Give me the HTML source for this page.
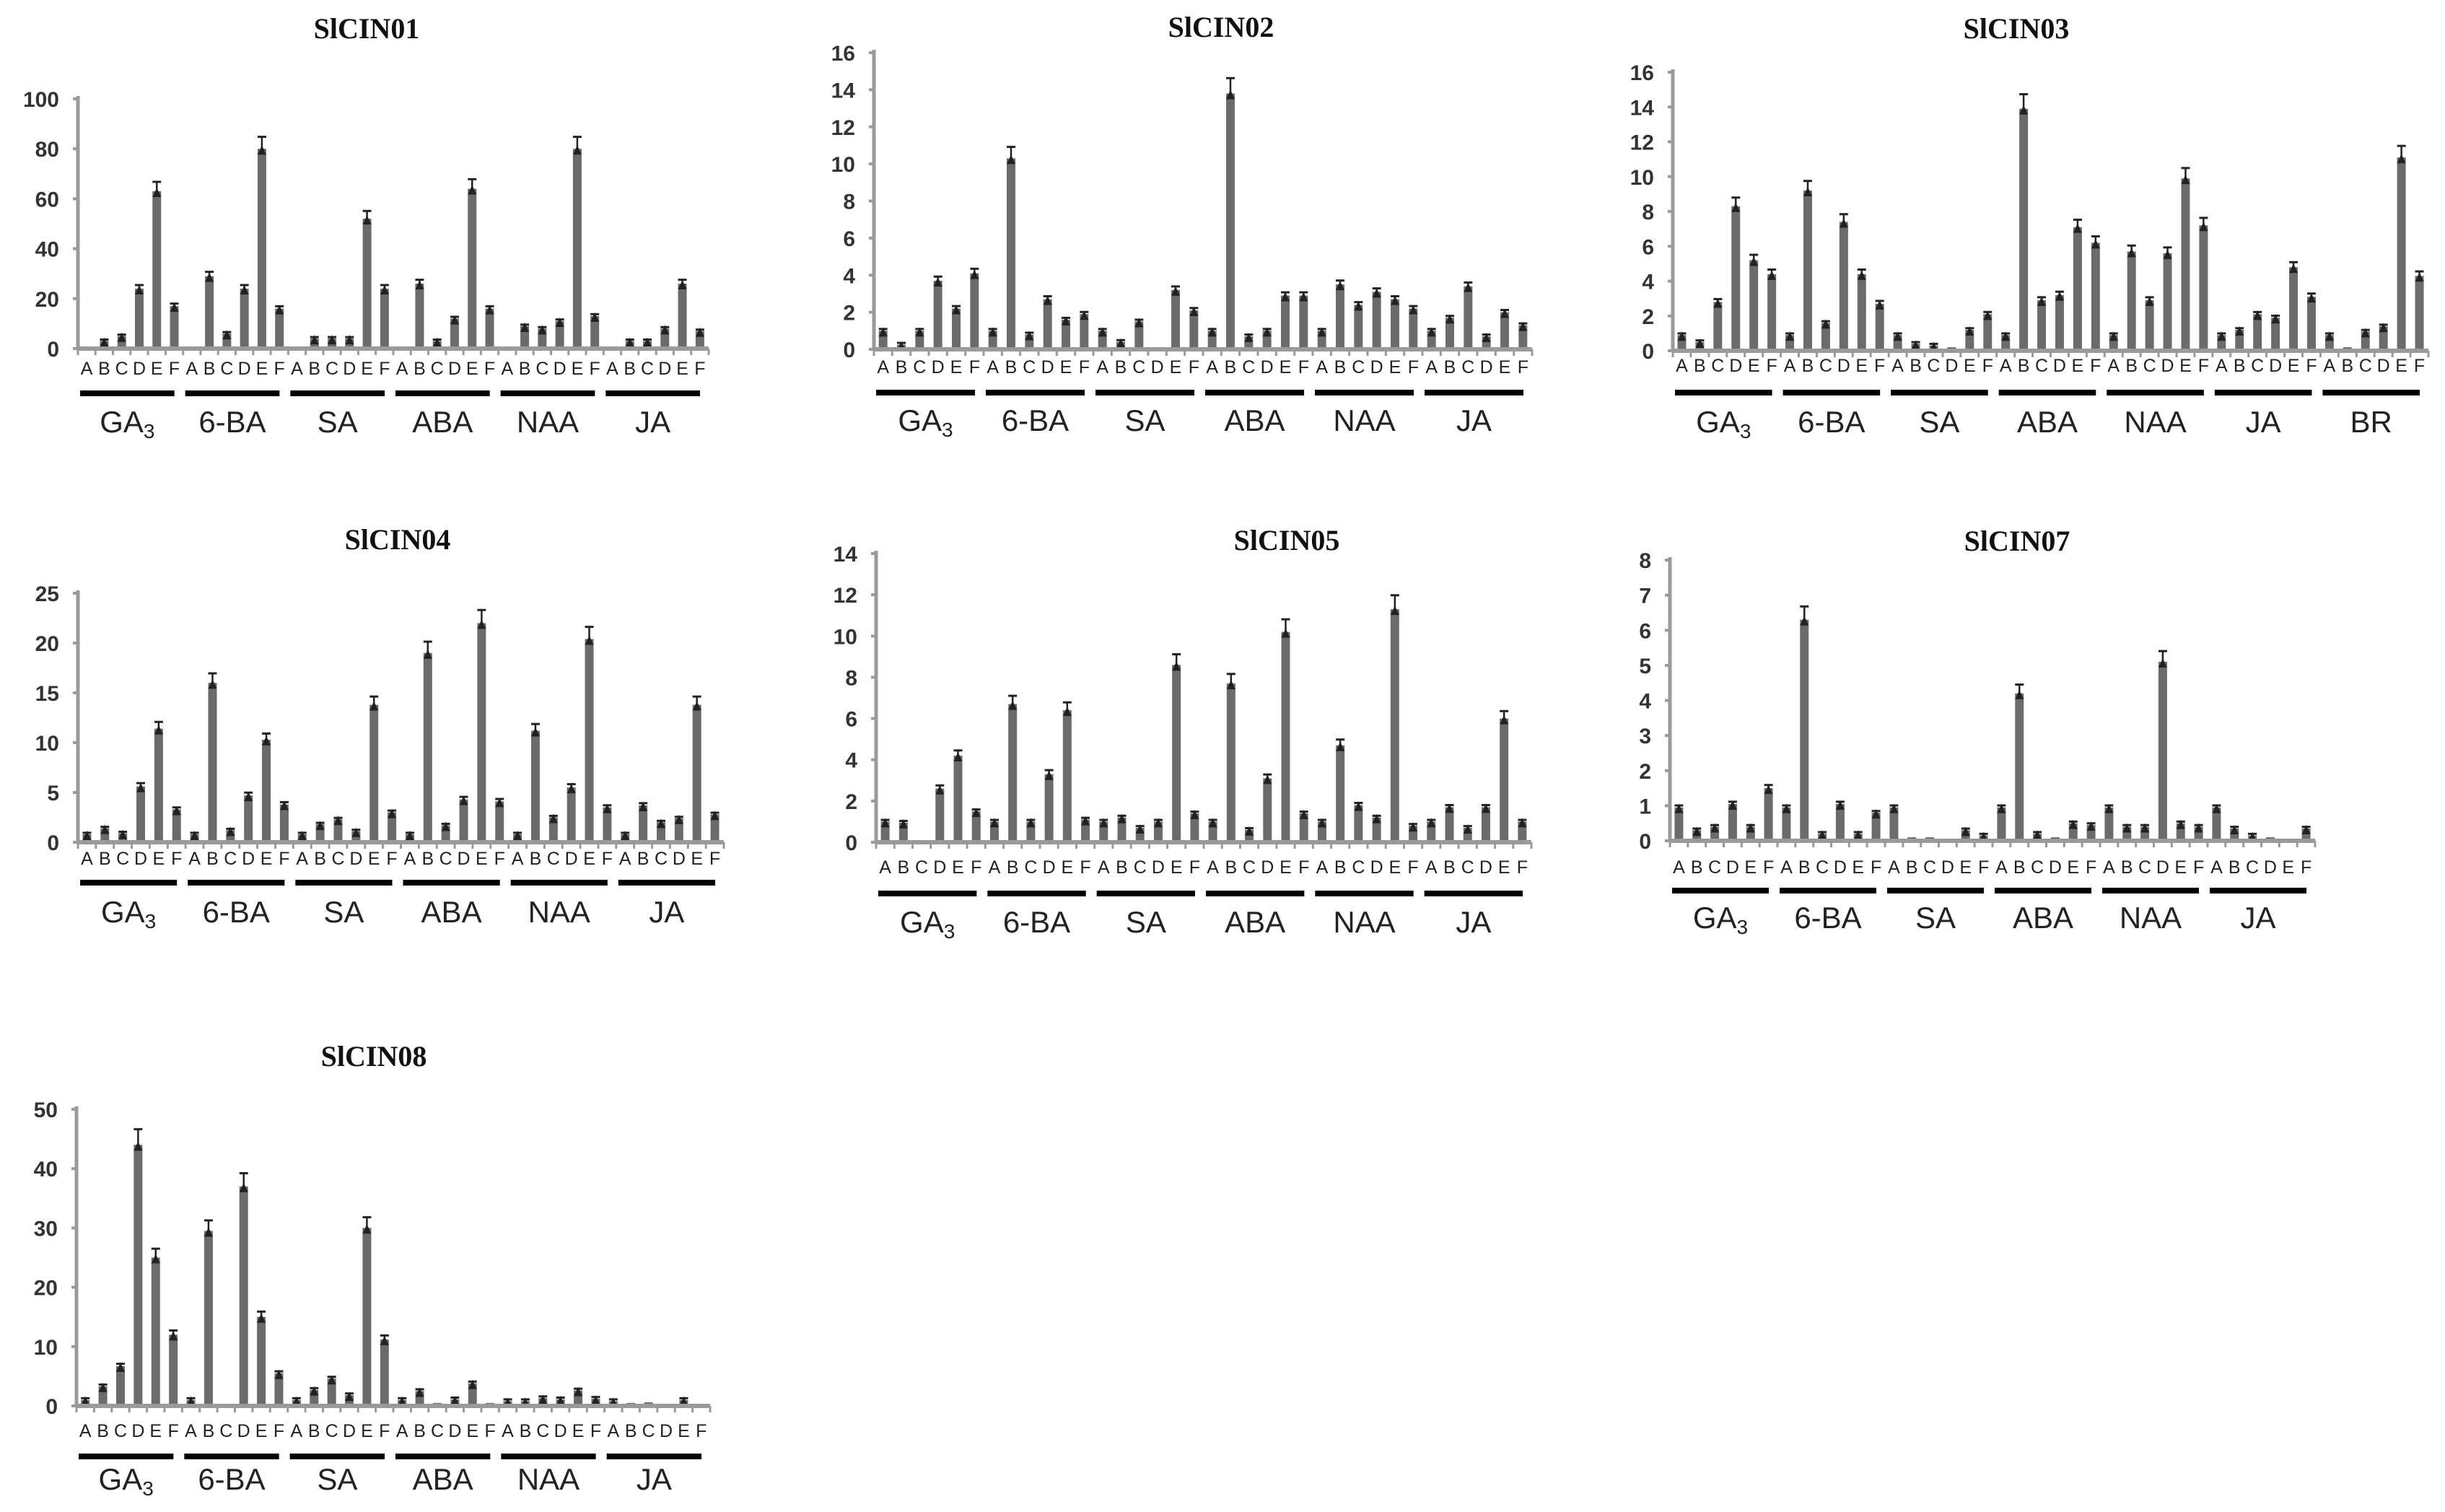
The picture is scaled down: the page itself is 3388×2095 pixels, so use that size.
<!DOCTYPE html>
<html><head><meta charset="utf-8"><style>
html,body{margin:0;padding:0;background:#fff;}
svg{display:block;}
</style></head><body>
<svg id="fig" width="3388" height="2095" viewBox="0 0 3388 2095" xmlns="http://www.w3.org/2000/svg"></svg>
<script>
const letters = ["A","B","C","D","E","F"];
const groups6 = ["GA3","6-BA","SA","ABA","NAA","JA"];
const groups7 = ["GA3","6-BA","SA","ABA","NAA","JA","BR"];

const cin01Values = [0,3,5,24,63,17, 0,29,6,24,80,16, 0,4,4,4,52,24, 0,26,3,12,64,16, 0,9,8,11,80,13, 0,3,3,8,26,7];
const cin01Ticks = [0,20,40,60,80,100];
const cin02Values = [1.0,0.25,1.0,3.7,2.2,4.1, 1.0,10.3,0.8,2.7,1.6,1.9, 1.0,0.4,1.5,0.1,3.2,2.1, 1.0,13.8,0.7,1.0,2.9,2.9, 1.0,3.5,2.4,3.1,2.7,2.2, 1.0,1.7,3.4,0.7,2.0,1.3];
const cin02Ticks = [0,2,4,6,8,10,12,14,16];
const cin03Values = [0.9,0.5,2.8,8.3,5.2,4.4, 0.9,9.2,1.6,7.4,4.4,2.7, 0.9,0.4,0.3,0.2,1.2,2.1, 0.9,13.9,2.9,3.2,7.1,6.2, 0.9,5.7,2.9,5.6,9.9,7.2, 0.9,1.2,2.1,1.9,4.8,3.1, 0.9,0.2,1.1,1.4,11.1,4.3];
const cin03Ticks = [0,2,4,6,8,10,12,14,16];
const cin04Values = [0.8,1.4,0.9,5.6,11.4,3.3, 0.8,16,1.2,4.7,10.3,3.8, 0.8,1.8,2.3,1.1,13.8,3.0, 0.8,19,1.7,4.3,22,4.1, 0.8,11.2,2.5,5.5,20.4,3.5, 0.8,3.7,2.0,2.4,13.8,2.8];
const cin04Ticks = [0,5,10,15,20,25];
const cin05Values = [1.0,0.95,0.1,2.6,4.2,1.5, 1.0,6.7,1.0,3.3,6.4,1.1, 1.0,1.2,0.7,1.0,8.6,1.4, 1.0,7.7,0.6,3.1,10.2,1.4, 1.0,4.7,1.8,1.2,11.3,0.8, 1.0,1.7,0.7,1.7,6.0,1.0];
const cin05Ticks = [0,2,4,6,8,10,12,14];
const cin07Values = [0.95,0.3,0.4,1.05,0.4,1.5, 0.95,6.3,0.2,1.05,0.2,0.8, 0.95,0.1,0.1,0,0.3,0.15, 0.95,4.2,0.2,0.1,0.5,0.45, 0.95,0.4,0.4,5.1,0.5,0.4, 0.95,0.35,0.15,0.1,0.05,0.35];
const cin07Ticks = [0,1,2,3,4,5,6,7,8];
const cin08Values = [1.0,3.3,6.7,44,25,12, 1.0,29.5,0.3,37,15,5.5, 1.0,2.7,4.6,1.8,30,11.2, 1.0,2.5,0.5,1.1,3.8,0.5, 0.8,0.8,1.3,1.1,2.6,1.2, 0.8,0.5,0.6,0.3,1.0,0.1];
const cin08Ticks = [0,10,20,30,40,50];

const panels = [
 {name:"SlCIN01", values:cin01Values, ticks:cin01Ticks, groups:groups6, x0:108,x1:982,yTop:137,yZero:483,tx:508,ty:53,ly:519,gy:545,gl:599},
 {name:"SlCIN02", values:cin02Values, ticks:cin02Ticks, groups:groups6, x0:1211,x1:2123,yTop:73,yZero:484,tx:1692,ty:51,ly:517,gy:544,gl:597},
 {name:"SlCIN03", values:cin03Values, ticks:cin03Ticks, groups:groups7, x0:2318,x1:3365,yTop:100,yZero:486,tx:2794,ty:53,ly:515,gy:544,gl:599},
 {name:"SlCIN04", values:cin04Values, ticks:cin04Ticks, groups:groups6, x0:108,x1:1003,yTop:822,yZero:1167,tx:551,ty:761,ly:1198,gy:1223,gl:1278},
 {name:"SlCIN05", values:cin05Values, ticks:cin05Ticks, groups:groups6, x0:1214,x1:2122,yTop:767,yZero:1167,tx:1783,ty:762,ly:1210,gy:1238,gl:1292},
 {name:"SlCIN07", values:cin07Values, ticks:cin07Ticks, groups:groups6, x0:2314,x1:3208,yTop:776,yZero:1165,tx:2795,ty:763,ly:1210,gy:1234,gl:1286},
 {name:"SlCIN08", values:cin08Values, ticks:cin08Ticks, groups:groups6, x0:106,x1:984,yTop:1537,yZero:1948,tx:518,ty:1477,ly:1991,gy:2018,gl:2064}
];

const NS = "http://www.w3.org/2000/svg";
const svg = document.getElementById("fig");
function mk(tag, attrs, parent){
  const e = document.createElementNS(NS, tag);
  for (const k in attrs) e.setAttribute(k, attrs[k]);
  parent.appendChild(e);
  return e;
}

panels.forEach(function(p){
  const g = mk("g", {}, svg);
  
  
  const maxV = p.ticks[p.ticks.length-1];
  const yS = function(v){ return p.yZero - (v/maxV)*(p.yZero - p.yTop); };
  const n = p.values.length;
  const slot = (p.x1 - p.x0)/n;
  const xS = function(i){ return p.x0 + (i+0.5)*slot; };

  const t = mk("text", {x:p.tx, y:p.ty, "text-anchor":"middle", "font-family":"Liberation Serif, serif", "font-weight":"bold", "font-size":"40", fill:"#111"}, g);
  t.textContent = p.name;
  
  

  const ya = mk("line", {x1:p.x0, y1:p.yTop-4, x2:p.x0, y2:p.yZero, stroke:"#9a9a9a", "stroke-width":5}, g);
  
  
  p.ticks.forEach(function(tv){
    const yy = yS(tv);
    mk("line", {x1:p.x0-7, y1:yy, x2:p.x0, y2:yy, stroke:"#9a9a9a", "stroke-width":4}, g);
    const tl = mk("text", {x:p.x0-26, y:yy+11, "text-anchor":"end", "font-family":"Liberation Sans, sans-serif", "font-weight":"bold", "font-size":"30", fill:"#333"}, g);
    tl.textContent = tv;
    
    
  });

  p.values.forEach(function(v, i){
    const cx = xS(i);
    const top = yS(v);
    const b = mk("rect", {x:cx-6, y:top, width:12, height:Math.max(0,p.yZero-top), fill:"#6b6b6b"}, g);
    
    
    if (v > 0.015*maxV) {
      const err = Math.max(v*0.06, maxV*0.006);
      const et = yS(v + err);
      const eb = mk("g", {}, g);
      
      
      mk("line", {x1:cx, y1:et, x2:cx, y2:top+4, stroke:"#222", "stroke-width":2.5}, eb);
      mk("line", {x1:cx-6, y1:et, x2:cx+6, y2:et, stroke:"#222", "stroke-width":3}, eb);
      mk("polygon", {points:(cx-6)+","+(top+8)+" "+(cx+6)+","+(top+8)+" "+cx+","+(top-5), fill:"#222"}, eb);
    }
    const lt = mk("text", {x:cx, y:p.ly, "text-anchor":"middle", "font-family":"Liberation Sans, sans-serif", "font-size":"25", fill:"#222"}, g);
    lt.textContent = letters[i % 6];
    
    
  });

  const xa = mk("line", {x1:p.x0, y1:p.yZero, x2:p.x1, y2:p.yZero, stroke:"#9a9a9a", "stroke-width":6}, g);
  
  
  for (let i = 0; i <= n; i++) {
    const xx = p.x0 + i*slot;
    mk("line", {x1:xx, y1:p.yZero, x2:xx, y2:p.yZero+9, stroke:"#9a9a9a", "stroke-width":3}, g);
  }

  p.groups.forEach(function(gn, gi){
    const gs = p.x0 + gi*6*slot + 3;
    const ge = p.x0 + (gi+1)*6*slot - 12;
    const gl = mk("line", {x1:gs, y1:p.gy, x2:ge, y2:p.gy, stroke:"#000", "stroke-width":8}, g);
    
    
    const tx = mk("text", {x:(gs+ge)/2, y:p.gl, "text-anchor":"middle", "font-family":"Liberation Sans, sans-serif", "font-size":"42", fill:"#222"}, g);
    
    
    if (gn === "GA3") {
      tx.textContent = "GA";
      const sub = mk("tspan", {"font-size":"28", dy:"8"}, tx);
      sub.textContent = "3";
    } else {
      tx.textContent = gn;
    }
  });
});
</script>
</body></html>
